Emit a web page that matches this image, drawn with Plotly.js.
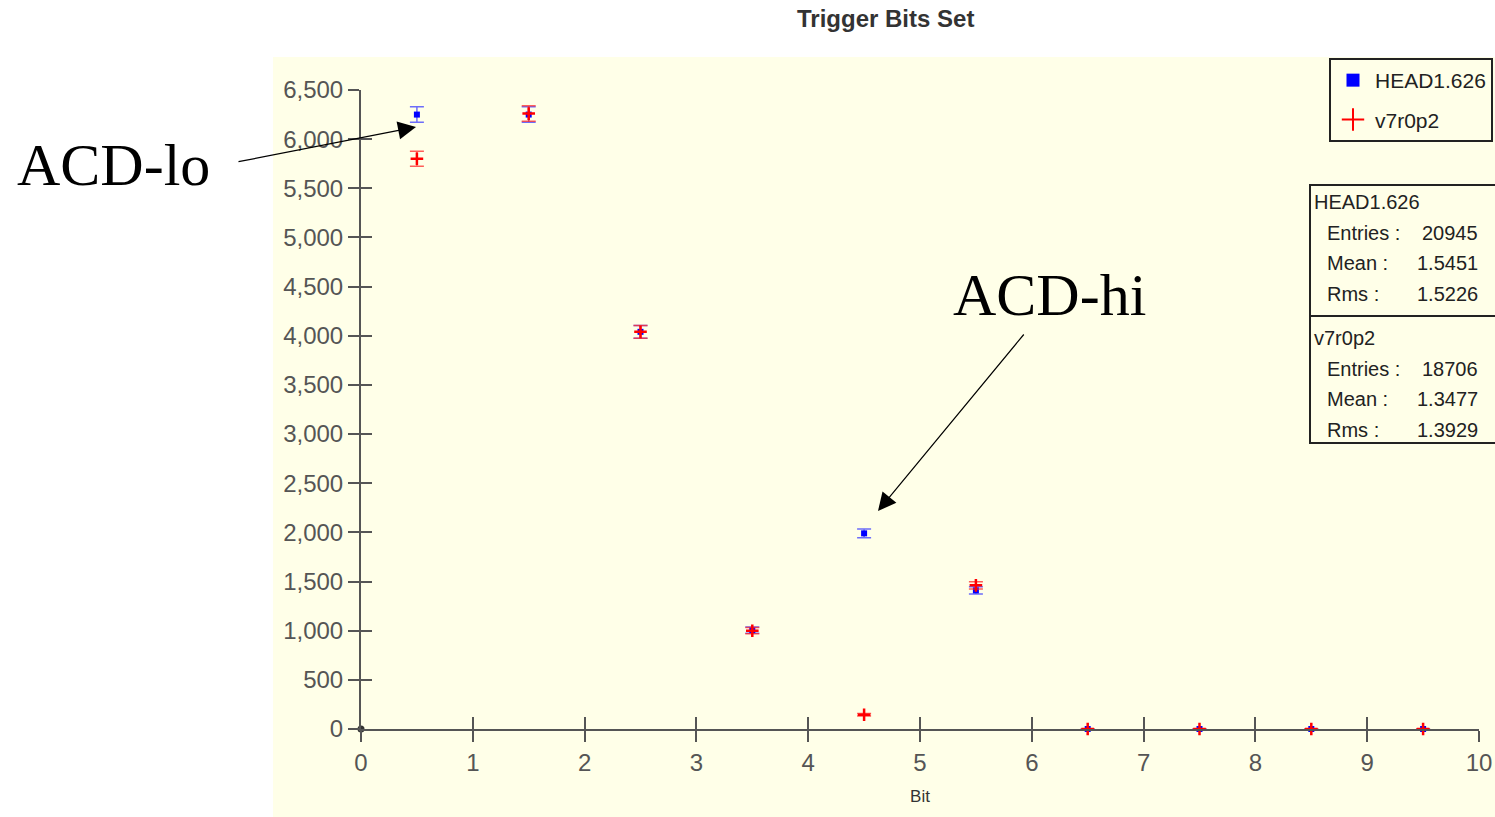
<!DOCTYPE html>
<html>
<head>
<meta charset="utf-8">
<script src="https://cdn.plot.ly/plotly-3.0.1.min.js"></script>
<style>html,body{margin:0;padding:0;background:#fff;}#chart{width:1495px;height:817px;}</style>
</head>
<body>
<div id="chart"></div>
<script>
// ---- data ----
const bins = [0.5, 1.5, 2.5, 3.5, 4.5, 5.5, 6.5, 7.5, 8.5, 9.5];
const headValues = [6250, 6250, 4040, 1005, 1990, 1410, 0, 0, 0, 0];
const headErrors = [79, 79, 64, 32, 45, 38, 0, 0, 0, 0];
const v7Values = [5800, 6260, 4040, 1000, 145, 1461, 0, 0, 0, 0];
const v7Errors = [76, 79, 64, 32, 12, 38, 0, 0, 0, 0];
const seriesNames = ["HEAD1.626", "v7r0p2"];
const statsHead = {Entries: "20945", Mean: "1.5451", Rms: "1.5226"};
const statsV7 = {Entries: "18706", Mean: "1.3477", Rms: "1.3929"};
const xTicks = [0,1,2,3,4,5,6,7,8,9,10];
const yTicks = [0,500,1000,1500,2000,2500,3000,3500,4000,4500,5000,5500,6000,6500];
const originX = [0], originY = [0];

// ---- geometry helpers (pixel -> paper) ----
const L = 361, R = 1479, T = 90, B = 729;
const W = R - L, H = B - T;
const px = x => (x - L) / W;
const py = y => (B - y) / H;

const axisColor = '#555555';
const tickFont = {family: 'Liberation Sans, Arial, sans-serif', size: 24, color: '#555555'};
const textFont = sz => ({family: 'Liberation Sans, Arial, sans-serif', size: sz, color: '#222'});

const traces = [
  {
    x: bins, y: headValues, type: 'scatter', mode: 'markers', name: seriesNames[0],
    showlegend: false, cliponaxis: false,
    marker: {symbol: 'square', size: 6, color: '#0000ff'},
    error_y: {type: 'data', array: headErrors, visible: true, color: 'rgba(60,60,255,0.75)', thickness: 1.5, width: 7}
  },
  {
    x: bins, y: v7Values, type: 'scatter', mode: 'markers', name: seriesNames[1],
    showlegend: false, cliponaxis: false,
    marker: {symbol: 'cross-thin', size: 9, color: '#ff0000', line: {color: '#ff0000', width: 2.5}},
    error_y: {type: 'data', array: v7Errors, visible: true, color: 'rgba(255,40,40,0.75)', thickness: 1.5, width: 7}
  },
  // legend entries
  {x: [null], y: [null], type: 'scatter', mode: 'markers', name: seriesNames[0], legendgroup: 'a',
   marker: {symbol: 'square', size: 13, color: '#0000ff'}},
  {x: [null], y: [null], type: 'scatter', mode: 'markers', name: seriesNames[1], legendgroup: 'b',
   marker: {symbol: 'cross-thin', size: 16, color: '#ff0000', line: {color: '#ff0000', width: 2}}},
  // origin dot on the overlay axes (gives the inside-tick axes a trace)
  {x: originX, y: originY, xaxis: 'x2', yaxis: 'y2', type: 'scatter', mode: 'markers', showlegend: false,
   hoverinfo: 'skip', cliponaxis: false, marker: {size: 7, color: '#333'}}
];

function statAnn(lines, topY) {
  const out = [];
  const step = 30.5;
  out.push({xref: 'paper', yref: 'paper', x: px(1312), y: py(topY), xanchor: 'left', yanchor: 'middle',
            text: lines.title, showarrow: false, font: textFont(20)});
  const keys = ['Entries', 'Mean', 'Rms'];
  keys.forEach((k, i) => {
    const yy = topY + step * (i + 1);
    out.push({xref: 'paper', yref: 'paper', x: px(1325), y: py(yy), xanchor: 'left', yanchor: 'middle',
              text: k + ' :', showarrow: false, font: textFont(20)});
    out.push({xref: 'paper', yref: 'paper', x: px(1480), y: py(yy), xanchor: 'right', yanchor: 'middle',
              text: lines.stats[k], showarrow: false, font: textFont(20)});
  });
  return out;
}

const annotations = [
  {xref: 'paper', yref: 'paper', x: px(885), y: py(19), xanchor: 'center', yanchor: 'middle',
   text: '<b>Trigger Bits Set</b>', showarrow: false, font: {family: 'Liberation Sans, Arial, sans-serif', size: 24, color: '#333'}},
  {xref: 'paper', yref: 'paper', x: px(15), y: py(165), xanchor: 'left', yanchor: 'middle',
   text: 'ACD-lo', showarrow: false, font: {family: 'Liberation Serif, Times New Roman, serif', size: 60, color: '#000'}},
  {xref: 'paper', yref: 'paper', x: px(951), y: py(295), xanchor: 'left', yanchor: 'middle',
   text: 'ACD-hi', showarrow: false, font: {family: 'Liberation Serif, Times New Roman, serif', size: 60, color: '#000'}},
  {xref: 'paper', yref: 'paper', x: px(416), y: py(127), text: '', showarrow: true,
   axref: 'pixel', ayref: 'pixel', ax: 237 - 416, ay: 162 - 127,
   arrowhead: 2, arrowsize: 3, arrowwidth: 1.2, arrowcolor: '#000', standoff: 0, startstandoff: 0},
  {xref: 'paper', yref: 'paper', x: px(878), y: py(511), text: '', showarrow: true,
   axref: 'pixel', ayref: 'pixel', ax: 1025 - 878, ay: 333 - 511,
   arrowhead: 2, arrowsize: 3, arrowwidth: 1.2, arrowcolor: '#000', standoff: 0, startstandoff: 0}
].concat(statAnn({title: seriesNames[0], stats: statsHead}, 202))
 .concat(statAnn({title: seriesNames[1], stats: statsV7}, 338));

const shapes = [
  {type: 'rect', xref: 'paper', yref: 'paper', x0: px(273), x1: px(1500), y0: py(817), y1: py(57),
   fillcolor: '#FFFFE8', line: {width: 0}, layer: 'below'},
  {type: 'rect', xref: 'paper', yref: 'paper', x0: px(1310), x1: px(1500), y0: py(443), y1: py(185),
   fillcolor: 'rgba(0,0,0,0)', line: {color: '#222', width: 2}},
  {type: 'line', xref: 'paper', yref: 'paper', x0: px(1310), x1: px(1500), y0: py(316), y1: py(316),
   line: {color: '#222', width: 2}}
];

const layout = {
  width: 1495, height: 817,
  margin: {l: L, r: 1495 - R, t: T, b: 817 - B, autoexpand: false},
  paper_bgcolor: '#ffffff', plot_bgcolor: 'rgba(0,0,0,0)',
  font: {family: 'Liberation Sans, Arial, sans-serif', color: '#555'},
  showlegend: true,
  legend: {x: px(1329), y: py(58), xanchor: 'left', yanchor: 'top', bgcolor: 'rgba(0,0,0,0)',
           bordercolor: '#222', borderwidth: 2, font: textFont(21),
           traceorder: 'grouped', tracegroupgap: 9, itemwidth: 34},
  xaxis: {range: [0, 10], tickvals: xTicks, ticktext: xTicks.map(String), showgrid: false, zeroline: false,
          showline: true, linecolor: axisColor, linewidth: 2, ticks: 'outside', ticklen: 11, tickwidth: 2, tickcolor: axisColor,
          tickfont: tickFont, title: {text: 'Bit', font: {family: 'Liberation Sans, Arial, sans-serif', size: 17, color: '#333'}, standoff: 15}},
  yaxis: {range: [0, 6500], tickvals: yTicks, tickformat: ',d', showgrid: false, zeroline: false,
          showline: true, linecolor: axisColor, linewidth: 2, ticks: 'outside', ticklen: 11, tickwidth: 2, tickcolor: axisColor,
          tickfont: tickFont},
  xaxis2: {range: [0, 10], overlaying: 'x', side: 'bottom', tickvals: xTicks, showticklabels: false, showgrid: false, zeroline: false,
           showline: false, ticks: 'inside', ticklen: 12, tickwidth: 2, tickcolor: axisColor},
  yaxis2: {range: [0, 6500], overlaying: 'y', side: 'left', tickvals: yTicks, showticklabels: false, showgrid: false, zeroline: false,
           showline: false, ticks: 'inside', ticklen: 11, tickwidth: 2, tickcolor: axisColor},
  annotations: annotations,
  shapes: shapes
};

Plotly.newPlot('chart', traces, layout, {displayModeBar: false, staticPlot: true});
</script>
</body>
</html>
